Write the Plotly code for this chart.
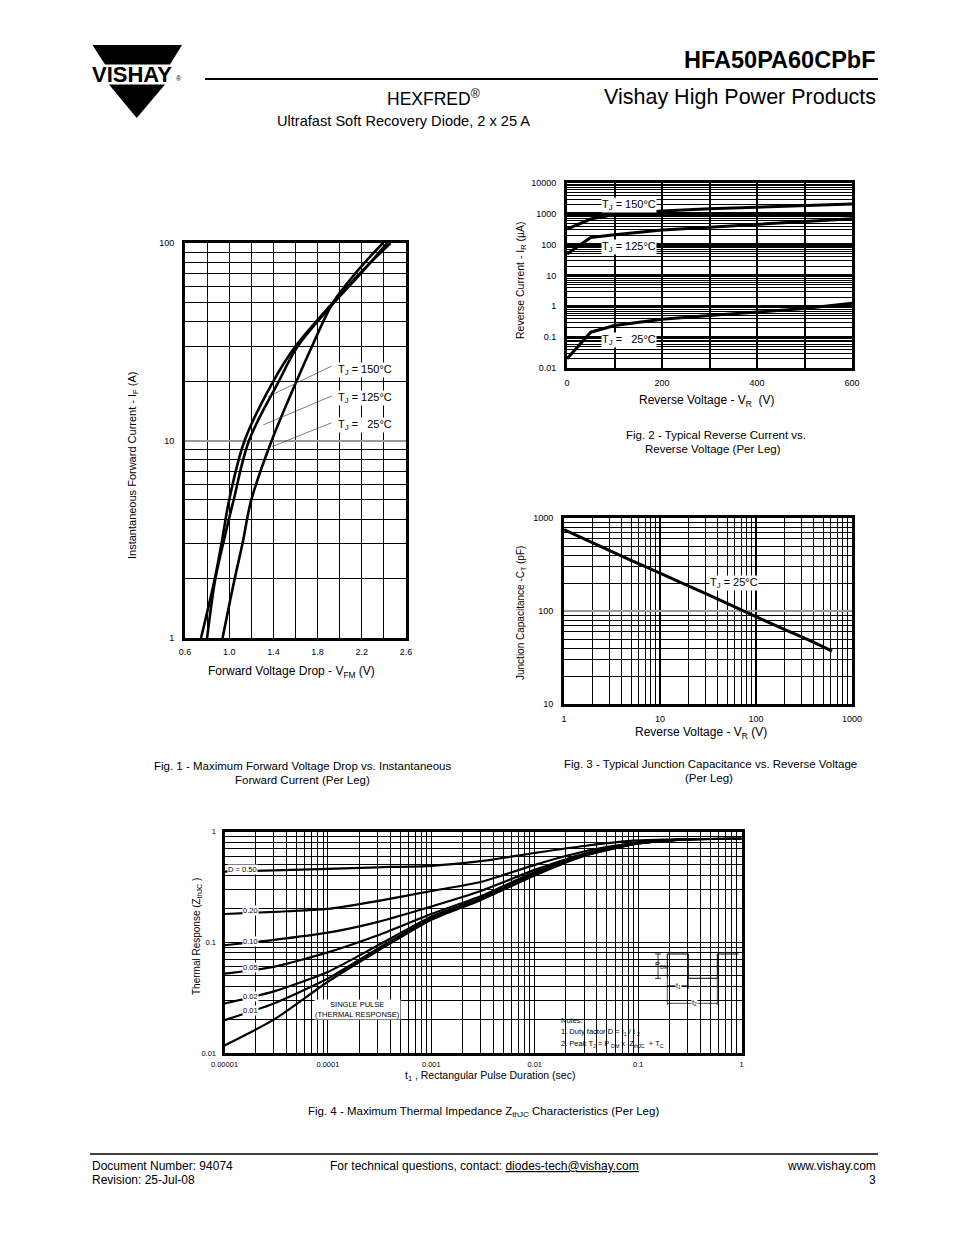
import plotly.graph_objects as go

W, H = 954, 1235          # browser window
OFF = 8                   # default page body margin
WF, HF = W - OFF, H - OFF  # figure size so that it fills the window exactly
FONT = "Liberation Sans, Arial, sans-serif"

# ---------------- Fig 1 data : I_F (A) vs V_FM (V) ----------------
f1_i_150 = [1, 2, 3, 5, 10, 20, 30, 50, 70, 100]
f1_v_150 = [0.745, 0.87, 0.93, 1.0, 1.14, 1.40, 1.60, 1.94, 2.18, 2.46]
f1_i_125 = [1, 2, 3, 5, 10, 20, 30, 50, 70, 100]
f1_v_125 = [0.80, 0.875, 0.945, 1.04, 1.18, 1.45, 1.62, 1.95, 2.19, 2.43]
f1_i_25 = [1, 2, 3, 5, 10, 20, 30, 50, 70, 100]
f1_v_25 = [0.94, 1.05, 1.12, 1.20, 1.385, 1.61, 1.75, 1.94, 2.14, 2.39]
f1_xticks = [0.6, 1.0, 1.4, 1.8, 2.2, 2.6]
f1_yticks = [1, 10, 100]

# ---------------- Fig 2 data : I_R (uA) vs V_R (V) ----------------
f2_vr = [0, 50, 100, 200, 300, 400, 500, 600]
f2_ir_150 = [320, 680, 950, 1230, 1450, 1630, 1850, 2100]
f2_ir_125 = [50, 170, 210, 300, 370, 450, 560, 690]
f2_ir_25 = [0.02, 0.145, 0.24, 0.38, 0.50, 0.65, 0.85, 1.25]
f2_xticks = [0, 200, 400, 600]
f2_yticks = [0.01, 0.1, 1, 10, 100, 1000, 10000]
f2_yticktext = ["0.01", "0.1", "1", "10", "100", "1000", "10000"]

# ---------------- Fig 3 data : C_T (pF) vs V_R (V) ----------------
f3_vr = [1, 2, 5, 10, 20, 50, 100, 200, 400, 620]
f3_ct = [750, 540, 350, 255, 185, 121, 87, 63, 46, 37]
f3_xticks = [1, 10, 100, 1000]
f3_yticks = [10, 100, 1000]

# ---------------- Fig 4 data : Z_thJC vs t1 (s) ----------------
f4_t = [1e-5, 3e-5, 1e-4, 3e-4, 1e-3, 3e-3, 1e-2, 3e-2, 1e-1, 3e-1, 1]
f4_z_d50 = [0.435, 0.445, 0.46, 0.475, 0.49, 0.54, 0.64, 0.74, 0.83, 0.855, 0.86]
f4_z_d20 = [0.18, 0.188, 0.20, 0.235, 0.29, 0.35, 0.50, 0.66, 0.80, 0.85, 0.86]
f4_z_d10 = [0.094, 0.105, 0.122, 0.152, 0.21, 0.29, 0.45, 0.63, 0.79, 0.85, 0.86]
f4_z_d05 = [0.052, 0.060, 0.081, 0.115, 0.18, 0.26, 0.43, 0.62, 0.785, 0.85, 0.86]
f4_z_d02 = [0.028, 0.036, 0.054, 0.093, 0.17, 0.25, 0.42, 0.61, 0.78, 0.85, 0.86]
f4_z_d01 = [0.0198, 0.028, 0.047, 0.087, 0.165, 0.245, 0.41, 0.61, 0.78, 0.85, 0.86]
f4_z_single = [0.0117, 0.020, 0.044, 0.083, 0.16, 0.24, 0.40, 0.60, 0.78, 0.85, 0.86]
f4_xticks = [1e-5, 1e-4, 1e-3, 1e-2, 1e-1, 1]
f4_xticktext = ["0.00001", "0.0001", "0.001", "0.01", "0.1", "1"]
f4_yticks = [0.01, 0.1, 1]
f4_yticktext = ["0.01", "0.1", "1"]


def pxx(x):
    return (x - OFF) / WF


def pyy(y):
    return 1 - (y - OFF) / HF


def minors(lo, hi):
    out = []
    for d in range(lo, hi):
        for k in range(2, 10):
            out.append(k * 10 ** d)
    return out


fig = go.Figure()

# ---- traces
for v, i in [(f1_v_150, f1_i_150), (f1_v_125, f1_i_125), (f1_v_25, f1_i_25)]:
    fig.add_trace(go.Scatter(x=v, y=i, mode="lines", line=dict(color="black", width=2.6, shape="spline", smoothing=1.0),
                             xaxis="x", yaxis="y", hoverinfo="skip"))
# leader lines fig1
f1_lead = [([1.927, 1.354], [23.8, 16.7]), ([1.927, 1.309], [16.8, 12.0]), ([1.927, 1.385], [12.3, 9.3])]
for lx, ly in f1_lead:
    fig.add_trace(go.Scatter(x=lx, y=ly, mode="lines", line=dict(color="#444", width=0.7),
                             xaxis="x", yaxis="y", hoverinfo="skip"))

for i in [f2_ir_150, f2_ir_125, f2_ir_25]:
    fig.add_trace(go.Scatter(x=f2_vr, y=i, mode="lines", line=dict(color="black", width=3),
                             xaxis="x2", yaxis="y2", hoverinfo="skip"))

fig.add_trace(go.Scatter(x=f3_vr, y=f3_ct, mode="lines", line=dict(color="black", width=3, shape="spline"),
                         xaxis="x3", yaxis="y3", hoverinfo="skip"))

for z in [f4_z_d50, f4_z_d20, f4_z_d10, f4_z_d05, f4_z_d02, f4_z_d01, f4_z_single]:
    fig.add_trace(go.Scatter(x=f4_t, y=z, mode="lines", line=dict(color="black", width=2.2, shape="spline", smoothing=0.6),
                             xaxis="x4", yaxis="y4", hoverinfo="skip"))

border = dict(showline=True, mirror=True, linewidth=3, linecolor="black", zeroline=False, ticks="",
              showgrid=True, gridcolor="black", automargin=False, layer="above traces")


def ax(**kw):
    d = dict(border)
    d.update(kw)
    return d


tick9 = dict(family=FONT, size=9, color="black")
tick8 = dict(family=FONT, size=7.5, color="black")

fig.update_layout(
    template="none",
    width=WF, height=HF, margin=dict(l=0, r=0, t=0, b=0, pad=0, autoexpand=False), showlegend=False,
    plot_bgcolor="white", paper_bgcolor="white",
    # fig 1
    xaxis=ax(domain=[pxx(185), pxx(406)], range=[0.6, 2.6], anchor="y", tickmode="array", tickvals=f1_xticks,
             ticktext=["%.1f" % v for v in f1_xticks], tickfont=tick9, gridwidth=1.4, ticklabelstandoff=3,
             minor=dict(tickmode="array", tickvals=[0.8, 1.2, 1.6, 2.0, 2.4], showgrid=True, gridcolor="black", gridwidth=1.4, ticks="")),
    yaxis=ax(domain=[pyy(638), pyy(243)], type="log", range=[0, 2], anchor="x", tickmode="array", tickvals=f1_yticks,
             ticktext=["1", "10", "100"], tickfont=tick9, gridcolor="#999", gridwidth=2, ticklabelstandoff=6,
             minor=dict(tickmode="array", tickvals=minors(0, 2), showgrid=True, gridcolor="black", gridwidth=1.4, ticks="")),
    # fig 2
    xaxis2=ax(domain=[pxx(567), pxx(852)], range=[0, 600], anchor="y2", tickmode="array", tickvals=f2_xticks,
              tickfont=tick9, gridwidth=1.5, ticklabelstandoff=4,
              minor=dict(tickmode="array", tickvals=[100, 300, 500], showgrid=True, gridcolor="black", gridwidth=1.5, ticks="")),
    yaxis2=ax(domain=[pyy(368), pyy(183)], type="log", range=[-2, 4], anchor="x2", tickmode="array", tickvals=f2_yticks,
              ticktext=f2_yticktext, tickfont=tick9, gridwidth=2.6, ticklabelstandoff=6,
              minor=dict(tickmode="array", tickvals=minors(-2, 4), showgrid=True, gridcolor="black", gridwidth=1, ticks="")),
    # fig 3
    xaxis3=ax(domain=[pxx(564), pxx(852)], type="log", range=[0, 3], anchor="y3", tickmode="array", tickvals=f3_xticks,
              ticktext=["1", "10", "100", "1000"], tickfont=tick9, gridwidth=2, ticklabelstandoff=4,
              minor=dict(tickmode="array", tickvals=minors(0, 3), showgrid=True, gridcolor="black", gridwidth=1, ticks="")),
    yaxis3=ax(domain=[pyy(704), pyy(518)], type="log", range=[1, 3], anchor="x3", tickmode="array", tickvals=f3_yticks,
              ticktext=["10", "100", "1000"], tickfont=tick9, gridcolor="#999", gridwidth=2, ticklabelstandoff=6,
              minor=dict(tickmode="array", tickvals=minors(1, 3), showgrid=True, gridcolor="black", gridwidth=1, ticks="")),
    # fig 4
    xaxis4=ax(domain=[pxx(224.5), pxx(741.5)], type="log", range=[-5, 0], anchor="y4", tickmode="array", tickvals=f4_xticks,
              ticktext=f4_xticktext, tickfont=tick8, gridwidth=1.2, ticklabelstandoff=2,
              minor=dict(tickmode="array", tickvals=minors(-5, 0), showgrid=True, gridcolor="black", gridwidth=1, ticks="")),
    yaxis4=ax(domain=[pyy(1053), pyy(831.5)], type="log", range=[-2, 0], anchor="x4", tickmode="array", tickvals=f4_yticks,
              ticktext=f4_yticktext, tickfont=tick8, gridwidth=1.2, ticklabelstandoff=4,
              minor=dict(tickmode="array", tickvals=minors(-2, 0), showgrid=True, gridcolor="black", gridwidth=1, ticks="")),
)

ann = []


def A(text, x, y, size=11, xanchor="center", yanchor="middle", angle=0, family=FONT, xref="paper", yref="paper",
      bg=None, pix=True, **kw):
    if pix and xref == "paper":
        x = pxx(x)
    if pix and yref == "paper":
        y = pyy(y)
    d = dict(text=text, x=x, y=y, xref=xref, yref=yref, showarrow=False, xanchor=xanchor, yanchor=yanchor,
             textangle=angle, font=dict(family=family, size=size, color="black"))
    if bg:
        d["bgcolor"] = bg
        d["borderpad"] = 0
    d.update(kw)
    ann.append(d)


# Header
A("<b>HFA50PA60CPbF</b>", 878, 60, size=23.5, xanchor="right")
A("HEXFRED<sup>®</sup>", 385, 98, size=17.5, xanchor="left")
A("Vishay High Power Products", 878, 97, size=21.5, xanchor="right")
A("Ultrafast Soft Recovery Diode, 2 x 25 A", 275, 121, size=14.6, xanchor="left")
A("<b>VISHAY</b>", 132.5, 74.5, size=22)
A("®", 178.5, 79, size=7)

# Fig 1 texts
A("Instantaneous Forward Current - I<sub>F</sub> (A)", 133, 465, size=11, angle=-90)
A("Forward Voltage Drop - V<sub>FM</sub> (V)", 291, 672, size=12)
A("Fig. 1 - Maximum Forward Voltage Drop vs. Instantaneous", 302, 766, size=11.5)
A("Forward Current (Per Leg)", 302, 780, size=11.5)
for lbl, ly in [("T<sub>J</sub> = 150°C", 1.357), ("T<sub>J</sub> = 125°C", 1.215), ("T<sub>J</sub> =\u00a0\u00a0 25°C", 1.078)]:
    A(lbl, 1.976, ly, size=11, xanchor="left", xref="x", yref="y", bg="white", pix=False)

# Fig 2 texts
A("Reverse Current - I<sub>R</sub> (µA)", 521, 280, size=10.5, angle=-90)
A("Reverse Voltage - V<sub>R</sub>\u00a0 (V)", 706, 401, size=12)
A("Fig. 2 - Typical Reverse Current vs.", 716, 435, size=11.5)
A("Reverse Voltage (Per Leg)", 713, 449, size=11.5)
for lbl, ly in [("T<sub>J</sub> = 150°C", 3.30), ("T<sub>J</sub> = 125°C", 1.94), ("T<sub>J</sub> =\u00a0\u00a0 25°C", -1.10)]:
    A(lbl, 72, ly, size=11, xanchor="left", xref="x2", yref="y2", bg="white", pix=False)

# Fig 3 texts
A("Junction Capacitance -C<sub>T</sub> (pF)", 521, 613, size=10, angle=-90)
A("Reverse Voltage - V<sub>R</sub> (V)", 701, 733, size=12)
A("Fig. 3 - Typical Junction Capacitance vs. Reverse Voltage", 710, 764, size=11.5)
A("(Per Leg)", 709, 778, size=11.5)
A("T<sub>J</sub> = 25°C", 1.506, 2.30, size=11, xanchor="left", xref="x3", yref="y3", bg="white", pix=False)

# Fig 4 texts
A("Thermal Response (Z<sub>thJC</sub> )", 197, 937, size=10, angle=-90)
A("t<sub>1</sub> , Rectangular Pulse Duration (sec)", 490, 1076, size=10.5)
A("Fig. 4 - Maximum Thermal Impedance Z<sub>thJC</sub> Characteristics (Per Leg)", 483, 1112, size=11.5)
A("D = 0.50", -4.977, -0.347, size=7.5, xanchor="left", xref="x4", yref="y4", bg="white", pix=False)
for lbl, ly in [("0.20", -0.715), ("0.10", -0.989), ("0.05", -1.231), ("0.02", -1.487), ("0.01", -1.62)]:
    A(lbl, -4.829, ly, size=7.5, xanchor="left", xref="x4", yref="y4", bg="white", pix=False)
A("SINGLE PULSE<br>(THERMAL RESPONSE)", -3.71, -1.611, size=7.5, xref="x4", yref="y4", bg="white", pix=False)
A("Notes:", 559, 1020.5, size=7.5, xanchor="left")
A("1. Duty factor D = t<sub>1</sub> / t <sub>2</sub>", 559, 1031.5, size=7.5, xanchor="left")
A("2. Peak T<sub>J</sub> = P <sub>DM</sub> x\u00a0 Z<sub>thJC</sub>\u00a0 + T<sub>C</sub>", 559, 1044, size=7.5, xanchor="left")
A("P<sub>DM</sub>", 652.5, 965, size=7.5, xanchor="left")
A("t<sub>1</sub>", 678.5, 985.5, size=7, bg="white")
A("t<sub>2</sub>", 694, 1003, size=7, bg="white")

# Footer
A("Document Number: 94074", 90, 1166, size=12, xanchor="left")
A("Revision: 25-Jul-08", 90, 1180, size=12, xanchor="left")
A("For technical questions, contact: <u>diodes-tech@vishay.com</u>", 328, 1166, size=12, xanchor="left")
A("www.vishay.com", 878, 1166, size=12, xanchor="right")
A("3", 878, 1180, size=12, xanchor="right")

fig.update_layout(annotations=ann)

shapes = []


def path(points, close=True):
    s = "M " + " L ".join("%f,%f" % (pxx(x), pyy(y)) for x, y in points)
    return s + (" Z" if close else "")


def line(x0, y0, x1, y1, w=1.0, color="black", layer="above"):
    shapes.append(dict(type="line", xref="paper", yref="paper", x0=pxx(x0), y0=pyy(y0), x1=pxx(x1), y1=pyy(y1),
                       line=dict(color=color, width=w), layer=layer))


# logo
shapes.append(dict(type="path", xref="paper", yref="paper", path=path([(92.5, 45), (182, 45), (170, 64.5), (105, 64.5)]),
                   fillcolor="black", line=dict(width=0)))
shapes.append(dict(type="path", xref="paper", yref="paper", path=path([(109, 84.5), (165, 84.5), (136.7, 118)]),
                   fillcolor="black", line=dict(width=0)))
# header / footer rules
line(205, 79, 878, 79, w=2)
line(90, 1154, 878, 1154, w=1.5)

# fig4 white boxes (inset + notes)
for x0, y0, x1, y1 in [(556.7, 1011.7, 740, 1052), (643.3, 946.7, 740, 1052)]:
    shapes.append(dict(type="rect", xref="paper", yref="paper", x0=pxx(x0), y0=pyy(y1), x1=pxx(x1), y1=pyy(y0),
                       fillcolor="white", line=dict(width=0), layer="between"))
# pulse waveform
wave = [(667.3, 978.3), (667.3, 954), (688.3, 954), (688.3, 978.3), (717.3, 978.3), (717.3, 954), (738.3, 954)]
shapes.append(dict(type="path", xref="paper", yref="paper", path=path(wave, close=False),
                   line=dict(color="black", width=1)))
# P_DM arrow
line(655, 954, 661, 954, w=0.8)
line(655, 978.3, 661, 978.3, w=0.8)
line(658, 954, 658, 978.3, w=0.8)
# t1 / t2 dimension lines
line(667.3, 978.3, 667.3, 1005, w=0.7)
line(688.3, 978.3, 688.3, 989, w=0.7)
line(717.3, 978.3, 717.3, 1005, w=0.7)
line(667.3, 985.7, 688.3, 985.7, w=0.7)
line(667.3, 1003.3, 717.3, 1003.3, w=0.7)

fig.update_layout(shapes=shapes)

fig.write_html("out.html")
